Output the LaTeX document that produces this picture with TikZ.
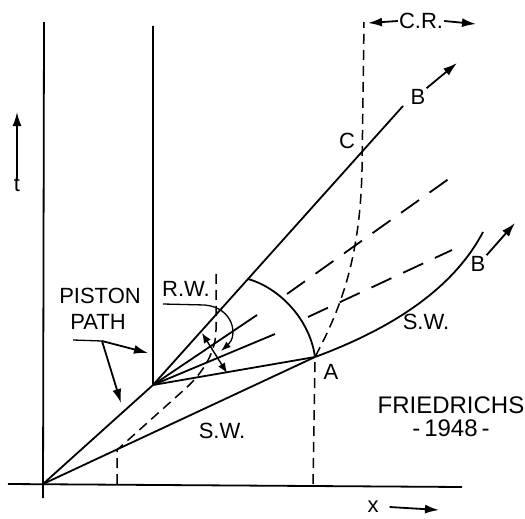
\documentclass[tikz,border=0pt]{standalone}
\usepackage{fontspec}
\setmainfont{Liberation Sans}
\usetikzlibrary{arrows.meta, positioning}

\begin{document}
\begin{tikzpicture}[
  x=1pt, y=-1pt,
  every node/.style={font=\fontsize{22}{24}\selectfont, inner sep=1pt},
  bigtext/.style={font=\fontsize{24}{26}\selectfont},
  wave/.style={line width=1.8pt},
  partpath/.style={line width=1.5pt, dash pattern=on 10pt off 6pt},
  longdash/.style={line width=1.8pt, dash pattern=on 22pt off 13pt},
  leader/.style={line width=1.3pt},
  arrow/.style={-{Latex[length=14pt,width=9pt]}, line width=1.8pt},
  darrow/.style={{Latex[length=10pt,width=8pt]}-{Latex[length=10pt,width=8pt]}, line width=1.4pt},
]
\useasboundingbox (0,0) rectangle (525,519);

% Axes
\coordinate (O) at (43,484);
\coordinate (axL) at (8,484);
\coordinate (axR) at (462,487);
\coordinate (axT) at (44,22);
\coordinate (axB) at (43,498);
\draw[wave] (axL) -- (axR);
\draw[wave] (axT) -- (axB);

% Piston path
\coordinate (P) at (153,385);
\coordinate (Ptop) at (153,26);
\draw[wave] (O) -- (P) -- (Ptop);

% Shock wave
\coordinate (A) at (315,357);
\coordinate (Bend) at (483,232);
\draw[wave] (O) -- (A) .. controls (380,333) and (450,295) .. (Bend);

% Rarefaction fan
\coordinate (lead) at (403,106);
\coordinate (ray2) at (257,315);
\coordinate (ray3) at (275,334);
\draw[wave] (P) -- (lead);
\draw[wave] (P) -- (ray2);
\draw[wave] (P) -- (ray3);
\draw[wave] (P) -- (A);

% Reflected wave
\coordinate (arc0) at (248,279);
\draw[wave] (arc0) .. controls (280,288) and (310,320) .. (A);
\coordinate (d1a) at (287,294);
\coordinate (d1b) at (450,178);
\coordinate (d2a) at (308,317);
\coordinate (d2b) at (452,250);
\draw[longdash] (d1a) -- (d1b);
\draw[longdash] (d2a) -- (d2b);

% Particle paths
\coordinate (p1base) at (117,484);
\coordinate (S1) at (117,450);
\coordinate (p1top) at (216,270);
\draw[partpath] (p1base) -- (S1) -- (185,389) .. controls (205,371) and (216,350) .. (216,330) -- (p1top);
\coordinate (p2base) at (313,484);
\coordinate (p2top) at (364,22);
\draw[partpath] (p2base) -- (A) .. controls (340,310) and (360,260) .. (362,170) -- (p2top);

% Labels
\node (tlbl) at (17,184) {t};
\node (xlbl) at (373,507) {x};
\node (crlbl) at (421,21) {C.R.};
\node (clbl) at (347,141) {C};
\node (b1lbl) at (418,97) {B};
\node (b2lbl) at (478,264) {B};
\node (albl) at (331,372) {A};
\node (sw1) at (426,322) {S.W.};
\node (sw2) at (222,431) {S.W.};
\node (rwlbl) at (186,289) {R.W.};
\node (piston) at (100,296) {PISTON};
\node (path) at (98,322) {PATH};
\node[bigtext] (fried) at (451,405) {FRIEDRICHS};
\node[bigtext, below=4pt of fried] (year) {-\,1948\,-};

% Arrows
\coordinate (ttip) at (17,112);
\coordinate (xtip) at (439,510);
\coordinate (crL) at (368,23);
\coordinate (crR) at (476,24);
\coordinate (b1tip) at (457,63);
\coordinate (b2tip) at (515,223);
\draw[arrow] ([yshift=-4pt]tlbl.north) -- (ttip);
\draw[arrow] ([xshift=10pt]xlbl.east) -- (xtip);
\draw[arrow] (crlbl.west) -- (crL);
\draw[arrow] (crlbl.east) -- (crR);
\draw[arrow] (b1lbl.north east) -- (b1tip);
\draw[arrow] (b2lbl.north east) -- (b2tip);

% R.W. leader and width
\coordinate (rw0) at (163,304);
\coordinate (rw1) at (205,305);
\coordinate (rwtip) at (221,351);
\draw[leader, -{Latex[length=10pt,width=7pt]}] (rw0) -- (rw1) .. controls (234,308) and (238,336) .. (rwtip);
\coordinate (da1) at (202,333);
\coordinate (da2) at (227,373);
\draw[darrow] (da1) -- (da2);

% Piston path leaders
\coordinate (pp0) at (73,340);
\coordinate (pp1) at (102,341);
\coordinate (pptip1) at (148,353);
\coordinate (pptip2) at (121,403);
\draw[leader] (pp0) -- (pp1);
\draw[arrow] (pp1) -- (pptip1);
\draw[arrow] (pp1) -- (pptip2);

\end{tikzpicture}
\end{document}
